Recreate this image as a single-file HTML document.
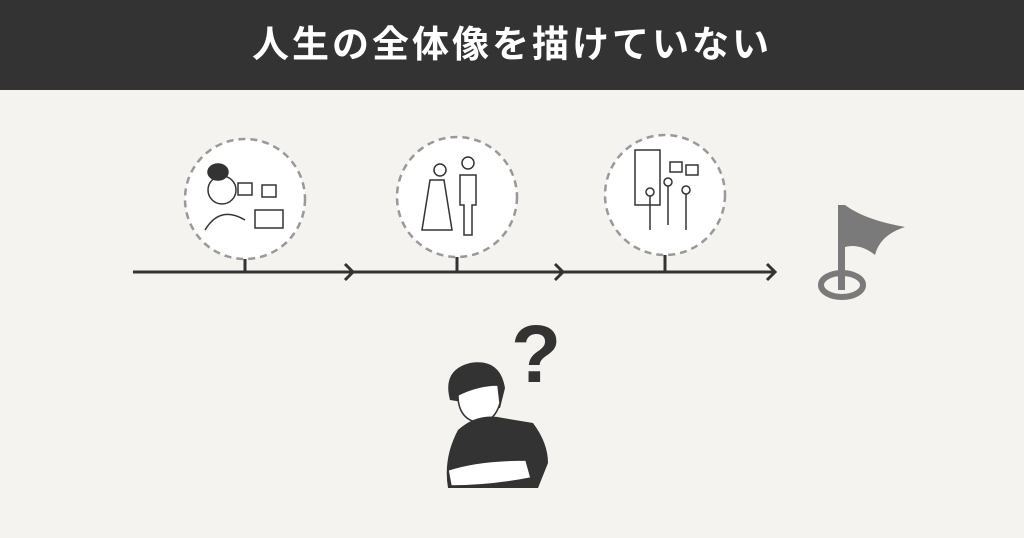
<!DOCTYPE html>
<html><head><meta charset="utf-8"><style>
body{margin:0;width:1024px;height:538px;background:#f4f3ef;overflow:hidden;font-family:"Liberation Sans","Noto Sans CJK JP",sans-serif}
.h{position:absolute;left:0;top:0;width:1024px;height:90px;background:#333;color:#fff;font-size:37px;font-weight:bold;text-align:center;line-height:90px;letter-spacing:3px}
</style></head><body>
<div class="h">人生の全体像を描けていない</div>
<svg width="1024" height="538" style="position:absolute;left:0;top:0">
<g fill="#fff" stroke="#999" stroke-width="2.5" stroke-dasharray="7 5">
<circle cx="245" cy="199" r="60"/><circle cx="457" cy="197" r="60"/><circle cx="665" cy="195" r="60"/>
</g>
<g stroke="#333" stroke-width="3" fill="none">
<line x1="133" y1="272" x2="775" y2="272"/>
<line x1="245" y1="259" x2="245" y2="272"/><line x1="457" y1="257" x2="457" y2="272"/><line x1="665" y1="255" x2="665" y2="272"/>
<polyline points="345,264 353,272 345,280"/><polyline points="555,264 563,272 555,280"/><polyline points="767,264 775,272 767,280"/>
</g>
<g stroke="#333" stroke-width="1.5" fill="none">
<circle cx="222" cy="190" r="14"/><ellipse cx="218" cy="172" rx="10" ry="8" fill="#333"/>
<path d="M205 230 q15 -25 40 -10"/><rect x="238" y="183" width="14" height="12"/><rect x="262" y="185" width="14" height="12"/>
<rect x="255" y="210" width="28" height="18"/>
<circle cx="440" cy="170" r="6"/><path d="M430 180 l-8 50 h30 l-8 -50z"/>
<circle cx="468" cy="163" r="6"/><path d="M460 175 h16 v30 h-4 v30 h-8 v-30 h-4z"/>
<rect x="635" y="150" width="25" height="55"/><rect x="670" y="162" width="12" height="10"/><rect x="686" y="165" width="12" height="10"/>
<circle cx="650" cy="192" r="4"/><line x1="650" y1="196" x2="650" y2="230"/>
<circle cx="668" cy="182" r="4"/><line x1="668" y1="186" x2="668" y2="225"/>
<circle cx="686" cy="190" r="4"/><line x1="686" y1="194" x2="686" y2="230"/>
</g>
<ellipse cx="842" cy="285" rx="21" ry="12" fill="none" stroke="#7a7a7a" stroke-width="6"/>
<rect x="838" y="205" width="7" height="85" fill="#7a7a7a"/>
<path d="M845 205 q20 15 60 22 q-25 8 -30 28 q-15 -12 -30 -8z" fill="#7a7a7a"/>
<text x="536" y="382" font-size="82" font-weight="bold" fill="#333" text-anchor="middle" font-family="Liberation Sans">?</text>
<path d="M450 400 q-8 -30 20 -37 q30 -5 35 25 l-5 20 z" fill="#333"/>
<path d="M458 395 q0 25 22 28 q15 -2 20 -20 l-2 -18 q-20 0 -40 10z" fill="#fff" stroke="#333" stroke-width="1.5"/>
<path d="M458 430 q20 -18 45 -12 l30 5 q15 20 15 40 l-10 25 h-90 q-5 -30 10 -58z" fill="#333"/>
<path d="M448 470 q30 -10 78 -10 l5 18 q-40 8 -80 8z" fill="#fff" stroke="#333" stroke-width="1.5"/>
</svg>
</body></html>
